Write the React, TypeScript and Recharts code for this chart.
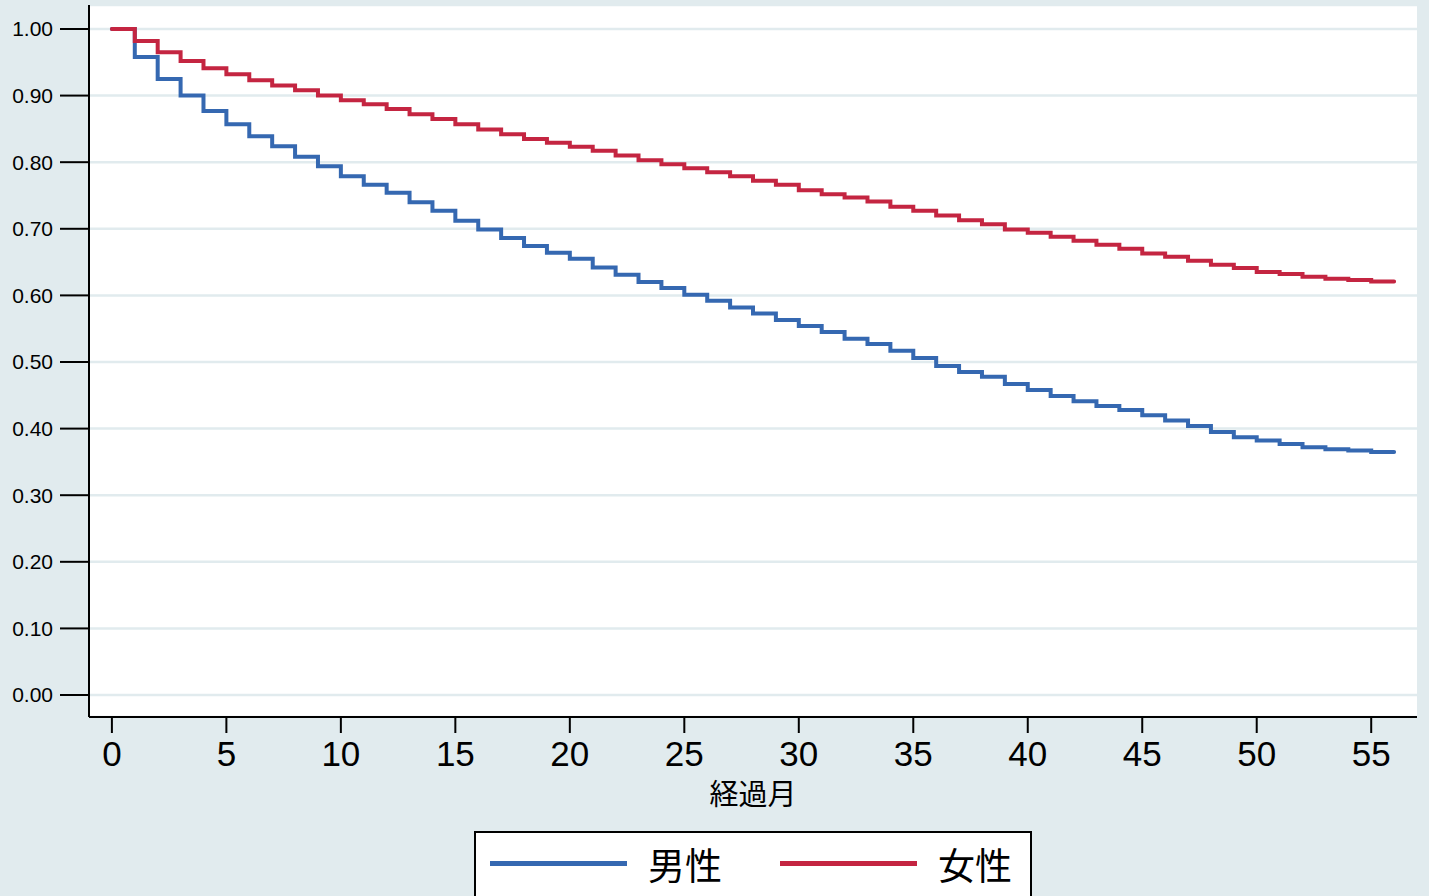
import { LineChart, Line, XAxis, YAxis, CartesianGrid, Label } from 'recharts';

const months = [
  0, 1, 2, 3, 4, 5, 6, 7, 8, 9, 10, 11, 12, 13, 14, 15, 16, 17, 18, 19, 20, 21, 22, 23, 24, 25, 26, 27, 28,
  29, 30, 31, 32, 33, 34, 35, 36, 37, 38, 39, 40, 41, 42, 43, 44, 45, 46, 47, 48, 49, 50, 51, 52, 53, 54, 55, 56,
];

// 男性
const maleSurvival = [
  1.0, 0.958, 0.925, 0.9, 0.877, 0.857, 0.839, 0.824, 0.808, 0.794,
  0.779, 0.766, 0.754, 0.74, 0.727, 0.712, 0.699, 0.686, 0.674, 0.664,
  0.655, 0.642, 0.631, 0.62, 0.611, 0.601, 0.592, 0.582, 0.573, 0.563,
  0.554, 0.545, 0.535, 0.527, 0.517, 0.506, 0.494, 0.485, 0.478, 0.467,
  0.458, 0.449, 0.441, 0.434, 0.428, 0.42, 0.412, 0.404, 0.395, 0.387,
  0.382, 0.377, 0.372, 0.369, 0.367, 0.365, 0.365,
];

// 女性
const femaleSurvival = [
  1.0, 0.982, 0.965, 0.952, 0.941, 0.932, 0.923, 0.915, 0.908, 0.9,
  0.893, 0.887, 0.88, 0.872, 0.865, 0.857, 0.849, 0.842, 0.835, 0.829,
  0.823, 0.817, 0.81, 0.803, 0.797, 0.791, 0.785, 0.779, 0.772, 0.766,
  0.758, 0.752, 0.747, 0.741, 0.733, 0.727, 0.72, 0.713, 0.707, 0.699,
  0.694, 0.688, 0.682, 0.676, 0.67, 0.663, 0.658, 0.652, 0.646, 0.641,
  0.635, 0.632, 0.628, 0.625, 0.623, 0.621, 0.621,
];

const xTicks = [0, 5, 10, 15, 20, 25, 30, 35, 40, 45, 50, 55];
const yTicks = [0, 0.1, 0.2, 0.3, 0.4, 0.5, 0.6, 0.7, 0.8, 0.9, 1.0];
const seriesNames = ['男性', '女性'];

const BG = '#e1ebee';
const BLUE = '#3568b1';
const RED = '#c42541';
const LATIN = '"Liberation Sans", Arial, sans-serif';
const CJK = '"Noto Sans CJK JP", sans-serif';

const data = months.map((m, i) => ({ month: m, male: maleSurvival[i], female: femaleSurvival[i] }));

function LegendBox() {
  const items = [
    { name: seriesNames[0], color: BLUE, lineLeft: 14, textLeft: 172 },
    { name: seriesNames[1], color: RED, lineLeft: 304, textLeft: 462 },
  ];
  return (
    <div
      style={{
        position: 'absolute',
        left: 474,
        top: 831,
        width: 558,
        height: 90,
        border: '2px solid #000',
        background: '#fff',
        boxSizing: 'border-box',
      }}
    >
      {items.map((it) => (
        <div key={it.name}>
          <div
            style={{
              position: 'absolute',
              left: it.lineLeft,
              top: 28,
              width: 137,
              height: 5,
              background: it.color,
            }}
          />
          <span
            style={{
              position: 'absolute',
              left: it.textLeft,
              top: 31,
              transform: 'translateY(-50%)',
              fontFamily: CJK,
              fontSize: 37,
              lineHeight: 1,
              color: '#000',
              whiteSpace: 'nowrap',
            }}
          >
            {it.name}
          </span>
        </div>
      ))}
    </div>
  );
}

export default function App() {
  return (
    <div
      style={{
        position: 'absolute',
        left: 0,
        top: 0,
        width: 1429,
        height: 896,
        background: BG,
        overflow: 'hidden',
      }}
    >
      <LineChart
        width={1429}
        height={896}
        data={data}
        margin={{ top: 5, right: 12, left: 0, bottom: 84 }}
      >
        <CartesianGrid vertical={false} stroke={BG} strokeWidth={2.5} fill="#fff" />
        <XAxis
          dataKey="month"
          type="number"
          domain={[-1, 57]}
          ticks={xTicks}
          allowDataOverflow
          height={95}
          tickSize={16}
          tickMargin={8}
          axisLine={{ stroke: '#000', strokeWidth: 2 }}
          tickLine={{ stroke: '#000', strokeWidth: 2 }}
          tick={{ fontSize: 35, fill: '#000', fontFamily: LATIN }}
        >
          <Label
            value="経過月"
            position="insideBottom"
            offset={7}
            style={{ fontSize: 29, fill: '#000', fontFamily: CJK }}
          />
        </XAxis>
        <YAxis
          type="number"
          domain={[-0.033, 1.036]}
          ticks={yTicks}
          allowDataOverflow
          width={89}
          tickSize={29}
          tickMargin={7}
          tickFormatter={(v: number) => v.toFixed(2)}
          axisLine={{ stroke: '#000', strokeWidth: 2 }}
          tickLine={{ stroke: '#000', strokeWidth: 2 }}
          tick={{ fontSize: 21, fill: '#000', fontFamily: LATIN }}
        />
        <Line
          type="stepAfter"
          dataKey="male"
          name={seriesNames[0]}
          stroke={BLUE}
          strokeWidth={4}
          strokeLinecap="round"
          dot={false}
          activeDot={false}
          isAnimationActive={false}
        />
        <Line
          type="stepAfter"
          dataKey="female"
          name={seriesNames[1]}
          stroke={RED}
          strokeWidth={4}
          strokeLinecap="round"
          dot={false}
          activeDot={false}
          isAnimationActive={false}
        />
      </LineChart>
      <LegendBox />
    </div>
  );
}
